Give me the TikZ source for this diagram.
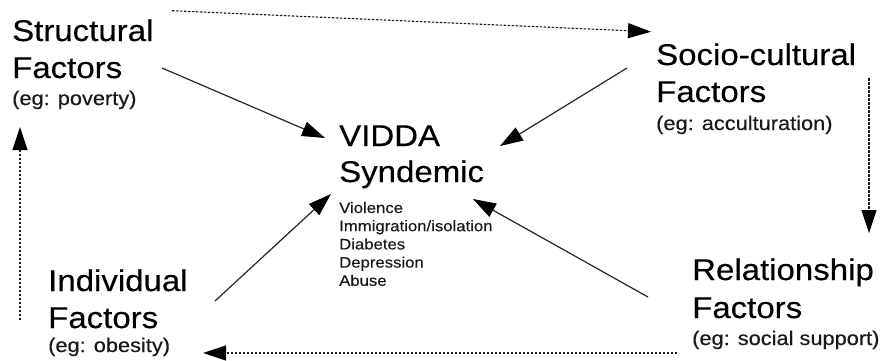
\documentclass[tikz,border=0pt]{standalone}
\usepackage{fontspec}
\setmainfont[FakeStretch=1.1,FakeBold=0.3]{Liberation Sans}
\usetikzlibrary{arrows.meta}
\begin{document}
\begin{tikzpicture}[x=1pt,y=-1pt,
  big/.style={anchor=base west, inner sep=0pt, font=\fontsize{30}{36}\selectfont, text=black},
  eg/.style={anchor=base west, inner sep=0pt, font=\fontsize{19.8}{24}\selectfont, text=black!90},
  item/.style={anchor=base west, inner sep=0pt, font=\fontsize{15.2}{18}\selectfont, text=black!90},
  link/.style={draw=black!85, line width=1.2pt, -{Triangle[length=23pt,width=15pt,color=black]}},
  flow/.style={draw=black!90, line width=1.1pt, dash pattern=on 2.5pt off 1.5pt, -{Triangle[length=23pt,width=15pt,color=black]}}
]
\fill[white] (0,0) rectangle (882,360);
\useasboundingbox (0,0) rectangle (882,360);

% Structural
\node[big] (st1) at (12,41) {Structural};
\node[big] (st2) at (12,78) {Factors};
\node[eg]  (st3) at (12,105) {(eg: poverty)};
% Socio-cultural
\node[big] (so1) at (656,65) {Socio-cultural};
\node[big] (so2) at (656,102) {Factors};
\node[eg]  (so3) at (656,130) {(eg: acculturation)};
% Individual
\node[big] (in1) at (48,291) {Individual};
\node[big] (in2) at (48,328) {Factors};
\node[eg]  (in3) at (48,352) {(eg: obesity)};
% Relationship
\node[big] (re1) at (692,280) {Relationship};
\node[big] (re2) at (692,318) {Factors};
\node[eg]  (re3) at (692,345) {(eg: social support)};
% Centre
\node[big] (v1) at (339,146) {VIDDA};
\node[big] (v2) at (339,182) {Syndemic};
\node[item] (l1) at (339,213) {Violence};
\node[item] (l2) at (339,231.2) {Immigration/isolation};
\node[item] (l3) at (339,249.4) {Diabetes};
\node[item] (l4) at (339,267.6) {Depression};
\node[item] (l5) at (339,285.8) {Abuse};

% connector ends
\coordinate (stOut) at (162,68);
\coordinate (vInNW) at (325,138);
\coordinate (soOut) at (627,68);
\coordinate (vInNE) at (500,146);
\coordinate (inOut) at (215,301);
\coordinate (vInSW) at (331,194);
\coordinate (reOut) at (648,297);
\coordinate (vInSE) at (473,199);

\coordinate (stTop) at (172,10.7);
\coordinate (soTop) at (651,31.7);
\coordinate (soDown) at (869,78);
\coordinate (reTop) at (869,233);
\coordinate (reLeft) at (677,353);
\coordinate (inRight) at (203,353);
\coordinate (inUp) at (20,320);
\coordinate (stBottom) at (20,127);

\draw[link] (stOut) -- (vInNW);
\draw[link] (soOut) -- (vInNE);
\draw[link] (inOut) -- (vInSW);
\draw[link] (reOut) -- (vInSE);

\draw[flow] (stTop) -- (soTop);
\draw[flow] (soDown) -- (reTop);
\draw[flow] (reLeft) -- (inRight);
\draw[flow] (inUp) -- (stBottom);
\end{tikzpicture}
\end{document}
